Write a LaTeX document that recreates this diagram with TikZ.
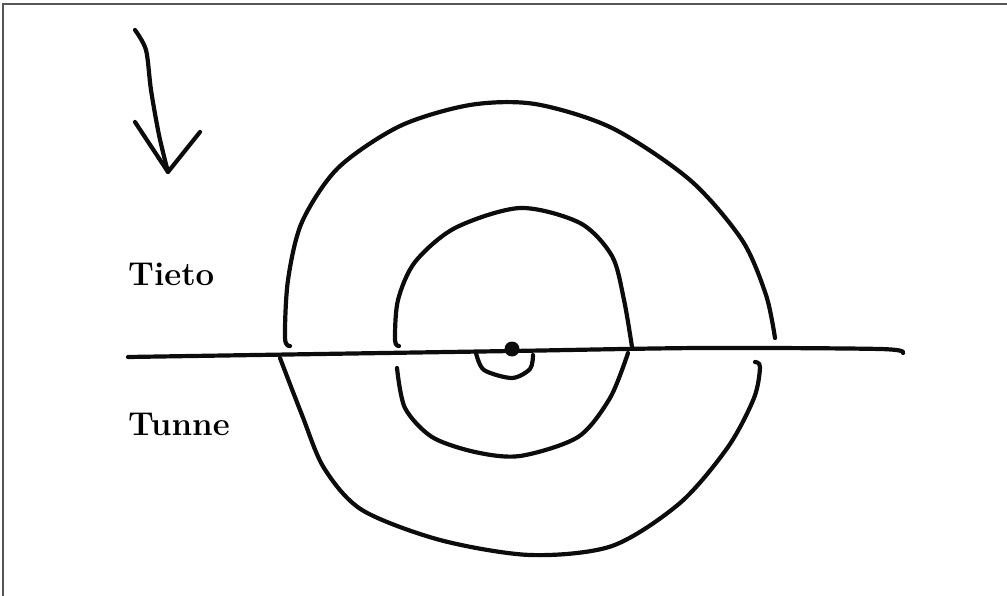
\documentclass[tikz,border=0pt]{standalone}
\usepackage{fontspec}
\usepackage{tikz}
\usetikzlibrary{arrows.meta,positioning,calc}
\definecolor{inkcolor}{RGB}{12,12,12}
\definecolor{framecolor}{RGB}{85,85,85}
\tikzset{
  inkln/.style={line width=4.2pt, line cap=round, line join=round, inkcolor},
  frameln/.style={line width=2pt, framecolor},
  lbl/.style={anchor=base west, inner sep=0pt, font=\fontsize{33}{34}\selectfont\bfseries},
}
\newcommand{\inkdot}[1]{%
  \fill[inkcolor] #1 circle (7.5pt);
}

\begin{document}
\begin{tikzpicture}[x=1pt,y=-1pt]
    \useasboundingbox (0,0) rectangle (1007,596);
    % Frame (top and left edges only)
    \draw[frameln] (3,596) -- (3,4) -- (1007,4);
    % Arrow in the corner
    \draw[inkln] plot[smooth] coordinates
      {(135,30) (146,50) (151,90) (159,135) (168,172)};
    \draw[inkln] (135,122) -- (168,172) -- (200,132);
    % Labels
    \node[lbl] (tieto) at (128,286) {Tieto};
    \node[lbl] (tunne) at (128,435) {Tunne};
    % Dividing line
    \draw[inkln] plot[smooth] coordinates
      {(128,357) (320,354) (512,351) (700,348) (880,349) (903,353)};
    % Outer ring, upper half
    \draw[inkln] plot[smooth] coordinates
      {(290,346) (285,338) (288,280) (302,222) (338,168) (400,126) (470,105)
       (535,104) (612,128) (690,180) (742,240) (766,295) (775,338)};
    % Outer ring, lower half
    \draw[inkln] plot[smooth] coordinates
      {(280,358) (302,415) (324,468) (362,510) (440,540) (530,555)
       (612,546) (680,503) (728,447) (754,398) (760,367) (755,362)};
    % Inner ring, upper half
    \draw[inkln] plot[smooth] coordinates
      {(399,346) (395,340) (398,300) (415,262) (455,228) (520,208)
       (580,223) (612,256) (624,300) (632,347)};
    % Inner ring, lower half
    \draw[inkln] plot[smooth] coordinates
      {(397,368) (405,408) (432,437) (475,452) (520,456) (578,437)
       (610,398) (628,353)};
    % Centre point and small loop
    \draw[inkln] plot[smooth] coordinates
      {(476,353) (484,370) (512,378) (530,369) (533,355)};
    \inkdot{(512,349)}
\end{tikzpicture}
\end{document}
